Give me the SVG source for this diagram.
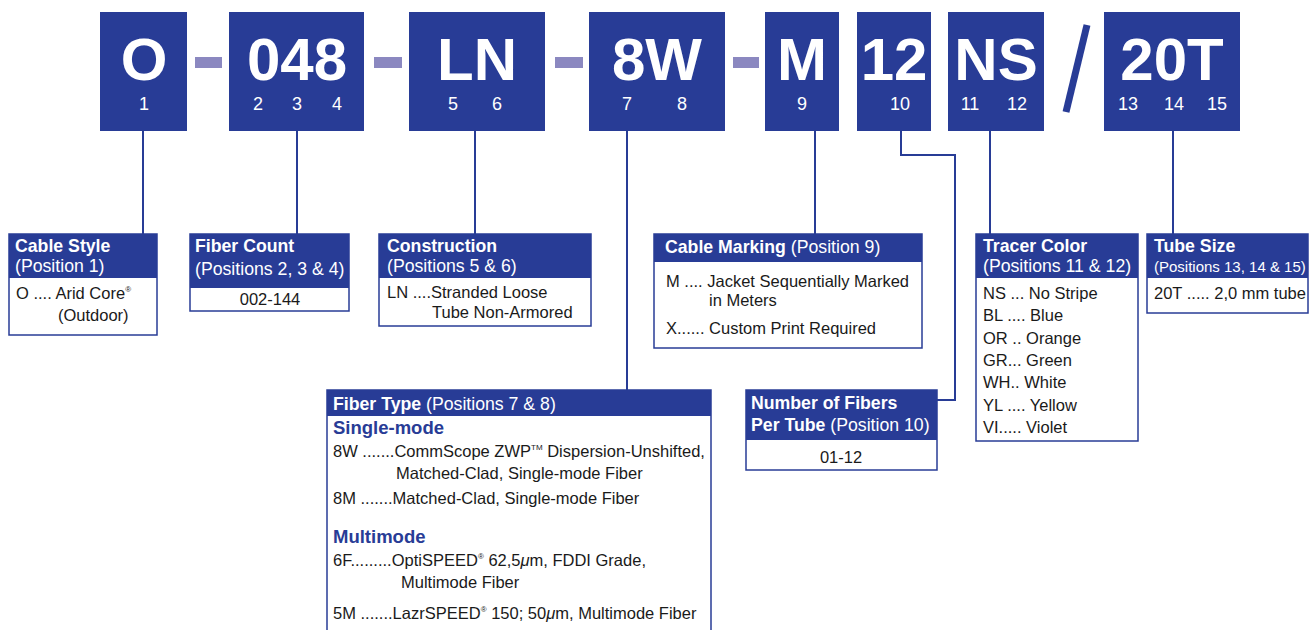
<svg xmlns="http://www.w3.org/2000/svg" width="1314" height="630" viewBox="0 0 1314 630">
<style>
.blk{fill:#283c96}
.big{font-family:"Liberation Sans",Arial,sans-serif;font-weight:bold;font-size:60px;fill:#fff;text-anchor:middle}
.num{font-family:"Liberation Sans",Arial,sans-serif;font-size:18px;fill:#fff;text-anchor:middle}
.dash{fill:#8b88c0}
.hb{font-family:"Liberation Sans",Arial,sans-serif;font-weight:bold;font-size:17.7px;fill:#fff}
.hr{font-family:"Liberation Sans",Arial,sans-serif;font-size:17.7px;fill:#fff}
.bd{font-family:"Liberation Sans",Arial,sans-serif;font-size:16.5px;fill:#1a1a1a}
.sub{font-family:"Liberation Sans",Arial,sans-serif;font-weight:bold;font-size:18.5px;fill:#283c96}
.box{fill:#fff;stroke:#283c96;stroke-width:1.5}
.ln{fill:none;stroke:#283c96;stroke-width:2}
.sup{font-size:8px}
</style>
<g id="connectors">
<rect class="dash" x="195" y="57" width="27" height="11"/>
<rect class="dash" x="374" y="57" width="28" height="11"/>
<rect class="dash" x="555" y="57" width="28" height="11"/>
<rect class="dash" x="733" y="57" width="26" height="11"/>
<line class="ln" x1="1087" y1="25" x2="1066" y2="112" style="stroke-width:7"/>
<path class="ln" d="M143 131V234"/>
<path class="ln" d="M297 131V234"/>
<path class="ln" d="M475 131V234"/>
<path class="ln" d="M627 131V390"/>
<path class="ln" d="M815 131V234"/>
<path class="ln" d="M901 131V155H955V400H937"/>
<path class="ln" d="M990 131V234"/>
<path class="ln" d="M1173 131V234"/>
</g>
<g id="code-O"><rect class="blk" x="100" y="12" width="87" height="119"/><text class="big" x="144" y="80">O</text><text class="num" x="144" y="110">1</text></g>
<g id="code-048"><rect class="blk" x="229" y="12" width="135" height="119"/><text class="big" x="297" y="80">048</text><text class="num" x="258" y="110">2</text><text class="num" x="297" y="110">3</text><text class="num" x="337" y="110">4</text></g>
<g id="code-LN"><rect class="blk" x="409" y="12" width="136" height="119"/><text class="big" x="477" y="80">LN</text><text class="num" x="453" y="110">5</text><text class="num" x="497" y="110">6</text></g>
<g id="code-8W"><rect class="blk" x="589" y="12" width="136" height="119"/><text class="big" x="657" y="80">8W</text><text class="num" x="627" y="110">7</text><text class="num" x="682" y="110">8</text></g>
<g id="code-M"><rect class="blk" x="765" y="12" width="74" height="119"/><text class="big" x="802" y="80">M</text><text class="num" x="802" y="110">9</text></g>
<g id="code-12"><rect class="blk" x="857" y="12" width="74" height="119"/><text class="big" x="894" y="80">12</text><text class="num" x="900" y="110">10</text></g>
<g id="code-NS"><rect class="blk" x="948" y="12" width="96" height="119"/><text class="big" x="996" y="80">NS</text><text class="num" x="970" y="110">11</text><text class="num" x="1017" y="110">12</text></g>
<g id="code-20T"><rect class="blk" x="1104" y="12" width="136" height="119"/><text class="big" x="1172" y="80">20T</text><text class="num" x="1128" y="110">13</text><text class="num" x="1174" y="110">14</text><text class="num" x="1217" y="110">15</text></g>

<g id="cable-style">
<rect class="box" x="9" y="234" width="148" height="101"/><rect class="blk" x="9" y="234" width="148" height="44"/>
<text class="hb" x="15" y="252">Cable Style</text><text class="hr" x="15" y="272">(Position 1)</text>
<text class="bd" x="16" y="299">O .... Arid Core<tspan class="sup" dy="-7">®</tspan></text>
<text class="bd" x="58" y="321">(Outdoor)</text>
</g>
<g id="fiber-count">
<rect class="box" x="190" y="234" width="159" height="77"/><rect class="blk" x="190" y="234" width="159" height="54"/>
<text class="hb" x="195" y="252">Fiber Count</text><text class="hr" x="195" y="275">(Positions 2, 3 &amp; 4)</text>
<text class="bd" x="270" y="305" text-anchor="middle">002-144</text>
</g>
<g id="construction">
<rect class="box" x="379" y="234" width="212" height="92"/><rect class="blk" x="379" y="234" width="212" height="44"/>
<text class="hb" x="387" y="252">Construction</text><text class="hr" x="387" y="272">(Positions 5 &amp; 6)</text>
<text class="bd" x="387" y="298">LN ....Stranded Loose</text>
<text class="bd" x="432" y="318">Tube Non-Armored</text>
</g>
<g id="cable-marking">
<rect class="box" x="654" y="234" width="268" height="114"/><rect class="blk" x="654" y="234" width="268" height="28"/>
<text class="hb" x="665" y="253">Cable Marking <tspan style="font-weight:normal">(Position 9)</tspan></text>
<text class="bd" x="666" y="287">M .... Jacket Sequentially Marked</text>
<text class="bd" x="709" y="306">in Meters</text>
<text class="bd" x="666" y="334">X...... Custom Print Required</text>
</g>
<g id="fiber-type">
<path class="box" d="M327 632V390H711V632"/><rect class="blk" x="327" y="390" width="384" height="26"/>
<text class="hb" x="333" y="410">Fiber Type <tspan style="font-weight:normal">(Positions 7 &amp; 8)</tspan></text>
<text class="sub" x="333" y="434">Single-mode</text>
<text class="bd" x="333" y="457">8W .......CommScope ZWP<tspan class="sup" dy="-7">TM</tspan><tspan dy="7"> Dispersion-Unshifted,</tspan></text>
<text class="bd" x="396" y="479">Matched-Clad, Single-mode Fiber</text>
<text class="bd" x="333" y="504">8M .......Matched-Clad, Single-mode Fiber</text>
<text class="sub" x="333" y="543">Multimode</text>
<text class="bd" x="333" y="566">6F.........OptiSPEED<tspan class="sup" dy="-7">®</tspan><tspan dy="7"> 62,5</tspan><tspan font-style="italic">μ</tspan>m, FDDI Grade,</text>
<text class="bd" x="401" y="588">Multimode Fiber</text>
<text class="bd" x="333" y="619">5M .......LazrSPEED<tspan class="sup" dy="-7">®</tspan><tspan dy="7"> 150; 50</tspan><tspan font-style="italic">μ</tspan>m, Multimode Fiber</text>
</g>
<g id="fibers-per-tube">
<rect class="box" x="746" y="390" width="191" height="80"/><rect class="blk" x="746" y="390" width="191" height="50"/>
<text class="hb" x="751" y="409">Number of Fibers</text>
<text class="hb" x="751" y="431">Per Tube <tspan style="font-weight:normal">(Position 10)</tspan></text>
<text class="bd" x="841" y="463" text-anchor="middle">01-12</text>
</g>
<g id="tracer-color">
<rect class="box" x="976" y="234" width="162" height="207"/><rect class="blk" x="976" y="234" width="162" height="44"/>
<text class="hb" x="983" y="252">Tracer Color</text><text class="hr" x="983" y="272">(Positions 11 &amp; 12)</text>
<text class="bd" x="983" y="299">NS ... No Stripe</text>
<text class="bd" x="983" y="321">BL .... Blue</text>
<text class="bd" x="983" y="344">OR .. Orange</text>
<text class="bd" x="983" y="366">GR... Green</text>
<text class="bd" x="983" y="388">WH.. White</text>
<text class="bd" x="983" y="411">YL .... Yellow</text>
<text class="bd" x="983" y="433">VI..... Violet</text>
</g>
<g id="tube-size">
<rect class="box" x="1147" y="234" width="161" height="79"/><rect class="blk" x="1147" y="234" width="161" height="44"/>
<text class="hb" x="1154" y="252">Tube Size</text><text class="hr" x="1154" y="272" style="font-size:15px">(Positions 13, 14 &amp; 15)</text>
<text class="bd" x="1154" y="299">20T ..... 2,0 mm tube</text>
</g>
</svg>
